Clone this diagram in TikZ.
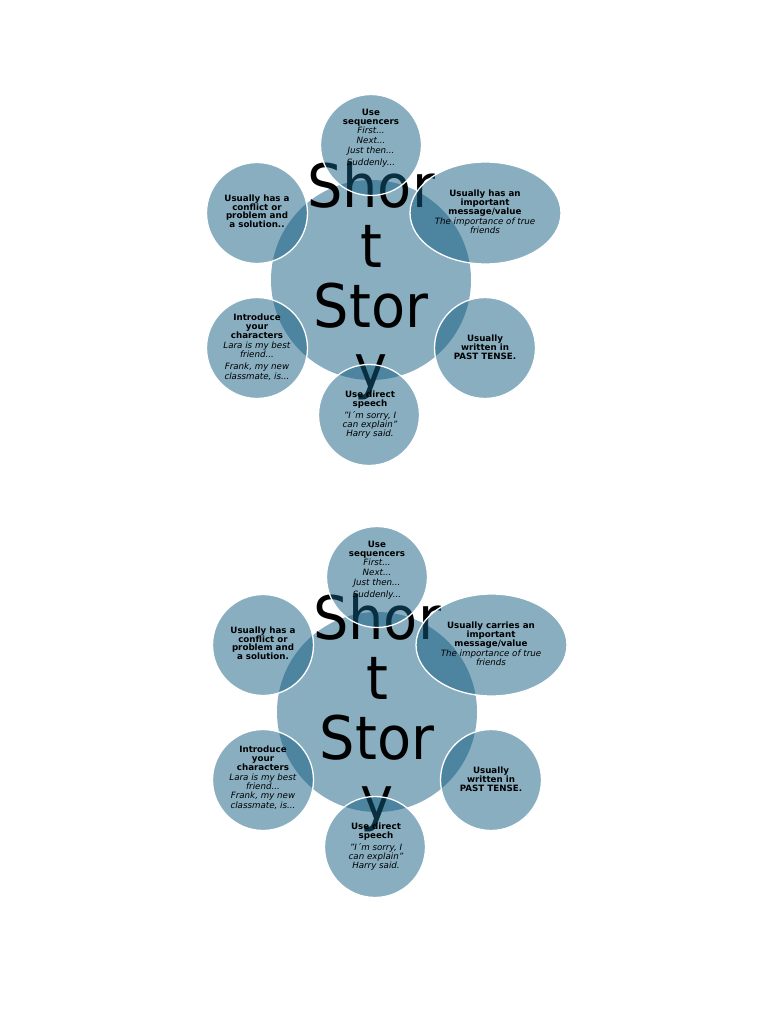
\documentclass[tikz,border=0pt]{standalone}
\usepackage{fontspec}
\setmainfont{DejaVu Sans}
\newfontfamily\bigfont[FakeStretch=0.93]{DejaVu Sans}
\usetikzlibrary{shapes.geometric}
\definecolor{storyblue}{RGB}{19,94,131}
\tikzset{
  hub/.style={circle, minimum size=200pt, inner sep=0pt, fill=storyblue, fill opacity=0.5},
  sat/.style={circle, minimum size=101pt, inner sep=0pt, fill=storyblue, fill opacity=0.5, draw=white, line width=1.3pt},
  satell/.style={ellipse, minimum width=151pt, minimum height=102pt, inner sep=0pt, fill=storyblue, fill opacity=0.5, draw=white, line width=1.3pt},
  bigtext/.style={anchor=north, align=center, inner sep=0pt, text=black, font=\bigfont\fontsize{60}{60}\selectfont},
  small/.style={anchor=north, align=center, inner sep=0pt, text=black, font=\fontsize{8.7}{9.3}\selectfont},
}
\newcommand{\storydiagram}[5]{%
\begin{scope}[shift={#2}]
  \node[hub] (#1-hub) at (371,280) {};
  \node[bigtext] (#1-title) at (371,161.7) {Shor\\t\\Stor\\y};
  \node[sat] (#1-seq) at (371,145) {};
  \node[sat] (#1-conf) at (257,213) {};
  \node[satell] (#1-msg) at (485.5,213) {};
  \node[sat] (#1-char) at (257,348) {};
  \node[sat] (#1-past) at (485,348) {};
  \node[sat] (#1-speech) at (369,415) {};
  \node[small] (#1-seqtext) at (371,108.7) {\textbf{Use}\\\textbf{sequencers}\\\textit{First...}\\\textit{Next...}\\[1.5pt]\textit{Just then...}\\[2pt]\textit{Suddenly...}};
  \node[small] (#1-conftext) at (257,194.4) {\textbf{Usually has a}\\[-0.5pt]\textbf{conflict or}\\[-0.5pt]\textbf{problem and}\\[-0.5pt]\textbf{a solution#3}};
  \node[small] (#1-msgtext) at (485,189.4) {\textbf{#4}\\\textbf{important}\\\textbf{message/value}\\\textit{The importance of true}\\\textit{friends}};
  \node[small] (#1-chartext) at (257,313.4) {\textbf{Introduce}\\\textbf{your}\\\textbf{characters}\\\textit{Lara is my best}\\\textit{friend...}\\[#5]\textit{Frank, my new}\\\textit{classmate, is...}};
  \node[small] (#1-pasttext) at (485,334.4) {\textbf{Usually}\\[-0.3pt]\textbf{written in}\\[-0.3pt]\textbf{PAST TENSE.}};
  \node[small] (#1-speechtext) at (370,390.7) {\textbf{Use direct}\\\textbf{speech}\\[2pt]\textit{"I´m sorry, I}\\\textit{can explain"}\\\textit{Harry said.}};
\end{scope}}
\begin{document}
\begin{tikzpicture}[x=1pt,y=-1pt]
  \useasboundingbox (0,0) rectangle (768,1024);
  \fill[white] (0,0) rectangle (768,1024);
  \storydiagram{a}{(0,0)}{..}{Usually has an}{3pt}
  \storydiagram{b}{(6,432)}{.}{Usually carries an}{0pt}
\end{tikzpicture}
\end{document}
